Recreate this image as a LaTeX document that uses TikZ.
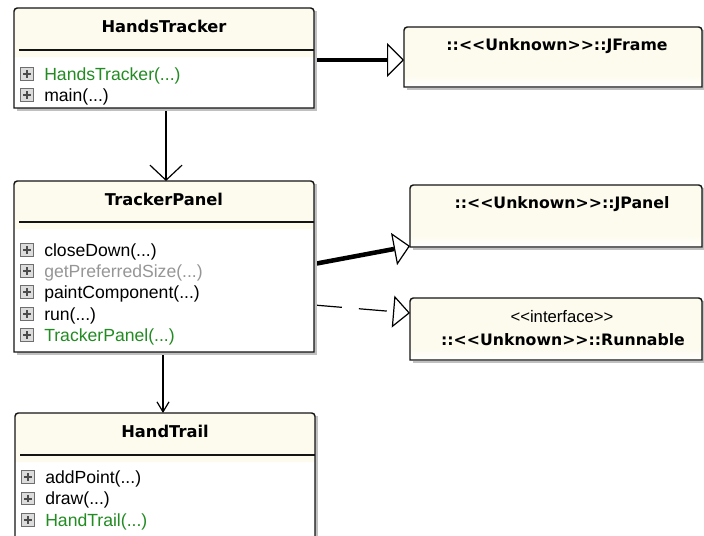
\documentclass[tikz,border=0pt]{standalone}
\usepackage{fontspec}
\setmainfont{Liberation Sans}[Ligatures=TeXOff]
\newfontfamily\headfont{DejaVu Sans}[Ligatures=TeXOff]
\usetikzlibrary{arrows.meta,calc}

\definecolor{cream}{RGB}{253,251,238}
\definecolor{shadowgray}{RGB}{192,192,192}
\definecolor{ctorgreen}{RGB}{34,139,34}
\definecolor{inheritgray}{RGB}{150,150,150}
\definecolor{iconfill}{RGB}{220,220,220}
\definecolor{iconedge}{RGB}{110,110,110}
\definecolor{boxedge}{RGB}{20,20,20}

\tikzset{
  boxarea/.style={rectangle, inner sep=0pt, outer sep=0pt, anchor=north west, draw=none},
  boxline/.style={draw=boxedge, line width=1.1pt},
  title/.style={font=\headfont\bfseries\fontsize{12.2}{14}\selectfont, anchor=base, inner sep=0pt},
  qualname/.style={font=\headfont\bfseries\fontsize{11.8}{14}\selectfont, anchor=base, inner sep=0pt},
  stereo/.style={font=\fontsize{12.5}{14}\selectfont, anchor=base, inner sep=0pt},
  membertext/.style={font=\fontsize{13.2}{15}\selectfont, anchor=base west, inner sep=0pt},
  plusicon/.style={rectangle, draw=iconedge, fill=iconfill, line width=0.7pt,
    minimum size=9.5pt, inner sep=0pt,
    path picture={
      \draw[black!70, line width=1.5pt]
        ($(path picture bounding box.west)+(2pt,0)$) -- ($(path picture bounding box.east)+(-2pt,0)$)
        ($(path picture bounding box.north)+(0,-2pt)$) -- ($(path picture bounding box.south)+(0,2pt)$);
    }},
  assoc/.style={draw=black, line width=0.9pt},
  realize/.style={draw=black, line width=0.9pt},
  heavy/.style={draw=black, line width=3.4pt},
}

% drop shadow on the right and bottom of a box
\newcommand\boxshadow[1]{%
  \fill[shadowgray] ($(#1.north east)+(0,3)$) rectangle ($(#1.south east)+(3,3)$);
  \fill[shadowgray] ($(#1.south west)+(3,0)$) rectangle ($(#1.south east)+(3,3)$);
}
% class box: cream header compartment, rule, white member compartment
\newcommand\classframe[2]{%
  \boxshadow{#1}
  \fill[white] (#1.south west) rectangle (#1.north east);
  \fill[cream] ($(#1.north west)+(0,#2+7)$) [rounded corners=2.5pt] -- (#1.north west)
     -- (#1.north east) [sharp corners] -- ($(#1.north east)+(0,#2+7)$) -- cycle;
  \draw[boxline] ($(#1.north west)+(5,#2)$) -- ($(#1.north east)+(0,#2)$);
  \draw[boxline] (#1.south west) [rounded corners=2.5pt] -- (#1.north west)
     -- (#1.north east) [sharp corners] -- (#1.south east) -- cycle;
}
% box of an external type: cream, fading to white at the bottom
\newcommand\plainframe[1]{%
  \boxshadow{#1}
  \fill[cream] (#1.south west) [rounded corners=2.5pt] -- (#1.north west)
     -- (#1.north east) [sharp corners] -- (#1.south east) -- cycle;
  \shade[top color=cream, bottom color=white] ($(#1.south west)+(0,-12)$) rectangle (#1.south east);
  \draw[boxline] (#1.south west) [rounded corners=2.5pt] -- (#1.north west)
     -- (#1.north east) [sharp corners] -- (#1.south east) -- cycle;
}
% one operation row: plus icon and signature
\newcommand\member[5]{%
  \node[plusicon] (#1-icon) at (#2+13,#3-6) {};
  \node[membertext, text=#4] (#1) at (#2+30,#3) {#5};
}

\begin{document}
\begin{tikzpicture}[x=0.75pt,y=-0.75pt]
  \path[use as bounding box] (0,0) rectangle (704,536);
  \clip (0,0) rectangle (704,536);
  \fill[white] (0,0) rectangle (704,536);

  % box areas
  \node[boxarea, minimum width=225pt, minimum height=75pt]     (ht)       at (14,8)    {};
  \node[boxarea, minimum width=225pt, minimum height=128.25pt] (tp)       at (14,181)  {};
  \node[boxarea, minimum width=225pt, minimum height=105pt]    (trail)    at (15,413)  {};
  \node[boxarea, minimum width=223.5pt, minimum height=45pt]   (jframe)   at (404,27)  {};
  \node[boxarea, minimum width=219pt, minimum height=46.5pt]   (jpanel)   at (410,185) {};
  \node[boxarea, minimum width=219pt, minimum height=46.5pt]   (runnable) at (410,298) {};

  % associations
  \draw[assoc, -{Straight Barb[length=11.25pt,width=24pt]}]
    ($(ht.south)+(2,0)$) -- ($(tp.north)+(2,0)$);
  \draw[assoc, -{Straight Barb[length=7.5pt,width=9pt]}]
    ($(tp.south)+(-1,0)$) -- ($(trail.north)+(-2,0)$);

  % generalizations
  \draw[realize, -{Triangle[open,length=12.75pt,width=25.5pt]}]
    ($(ht.north east)+(0,52)$) -- ($(jframe.north west)+(0,33)$);
  \draw[heavy, shorten >=12.75pt]
    ($(ht.north east)+(0,52)$) -- ($(jframe.north west)+(0,33)$);
  \draw[realize, -{Triangle[open,length=12.2pt,width=24.5pt]}]
    ($(tp.north east)+(0,83)$) -- ($(jpanel.south west)+(0,-1)$);
  \draw[heavy, shorten >=12.2pt]
    ($(tp.north east)+(0,83)$) -- ($(jpanel.south west)+(0,-1)$);

  % realization
  \draw[realize, dash pattern=on 21pt off 12.75pt, -{Triangle[open,length=12.75pt,width=24pt]}]
    ($(tp.north east)+(0,124)$) -- ($(runnable.north west)+(0,15)$);

  % boxes
  \classframe{ht}{42}
  \classframe{tp}{41}
  \classframe{trail}{42}
  \plainframe{jframe}
  \plainframe{jpanel}
  \plainframe{runnable}

  % names
  \node[title] (ht-title)    at (164,32)  {HandsTracker};
  \node[title] (tp-title)    at (164,205) {TrackerPanel};
  \node[title] (trail-title) at (165,437) {HandTrail};
  \node[qualname] (jframe-name)     at (557,50)  {::<<Unknown>>::JFrame};
  \node[qualname] (jpanel-name)     at (562,208) {::<<Unknown>>::JPanel};
  \node[stereo]   (runnable-stereo) at (562,322) {<<interface>>};
  \node[qualname] (runnable-name)   at (563,345) {::<<Unknown>>::Runnable};

  % operations
  \member{ht-ctor}{14}{80}{ctorgreen}{HandsTracker(...)}
  \member{ht-main}{14}{101}{black}{main(...)}

  \member{tp-close}{14}{256}{black}{closeDown(...)}
  \member{tp-size}{14}{277}{inheritgray}{getPreferredSize(...)}
  \member{tp-paint}{14}{298}{black}{paintComponent(...)}
  \member{tp-run}{14}{320}{black}{run(...)}
  \member{tp-ctor}{14}{341}{ctorgreen}{TrackerPanel(...)}

  \member{trail-add}{15}{483}{black}{addPoint(...)}
  \member{trail-draw}{15}{504.5}{black}{draw(...)}
  \member{trail-ctor}{15}{526}{ctorgreen}{HandTrail(...)}
\end{tikzpicture}
\end{document}
